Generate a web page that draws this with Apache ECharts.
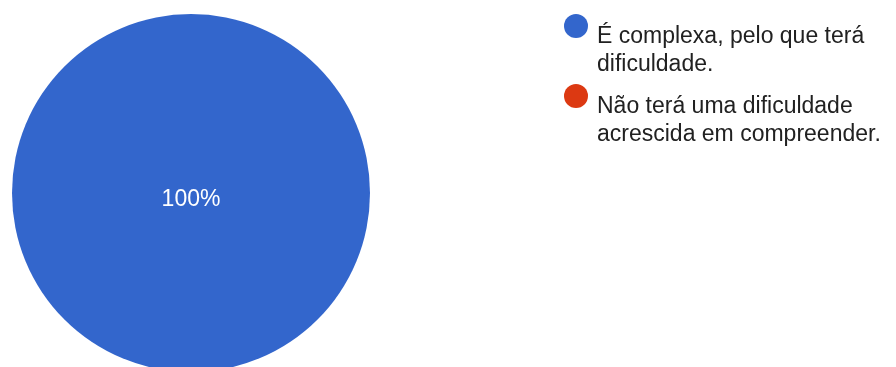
<!DOCTYPE html>
<html>
<head>
<meta charset="utf-8">
<script src="https://cdn.jsdelivr.net/npm/echarts@6/dist/echarts.min.js"></script>
<style>
html,body{margin:0;padding:0;background:#fff;}
#c{width:896px;height:367px;}
</style>
</head>
<body>
<div id="c"></div>
<script>
const categories = ["É complexa, pelo que terá dificuldade.", "Não terá uma dificuldade acrescida em compreender."];
const legendLines = [["É complexa, pelo que terá", "dificuldade."], ["Não terá uma dificuldade", "acrescida em compreender."]];
const values = [100, 0];
const colors = ["#3366cc", "#dc3912"];

const chart = echarts.init(document.getElementById('c'), null, {renderer: 'canvas'});
const font = 'Liberation Sans, Arial, sans-serif';

function mkLegend(i, top) {
  return {
    data: [categories[i]],
    left: 564,
    top: top,
    orient: 'vertical',
    icon: 'circle',
    itemWidth: 24,
    itemHeight: 24,
    padding: 0,
    selectedMode: false,
    formatter: function () { return legendLines[i].map(s => '{a|' + s + '}').join('\n'); },
    textStyle: {
      padding: [49, 0, 0, 4],
      rich: {
        a: {
          fontFamily: font,
          fontSize: 23,
          color: '#212121',
          lineHeight: 28
        }
      }
    }
  };
}

chart.setOption({
  animation: false,
  color: colors,
  legend: [mkLegend(0, 14), mkLegend(1, 84)],
  series: [{
    type: 'pie',
    center: [191, 193],
    radius: 179,
    startAngle: 90,
    data: categories.map((n, i) => ({name: n, value: values[i], label: {show: values[i] > 0}})),
    itemStyle: {borderWidth: 0},
    labelLine: {show: false},
    label: {
      position: 'center',
      formatter: '{v|{d}%}',
      padding: [14, 0, 0, 0],
      rich: {
        v: {
          color: '#ffffff',
          fontFamily: font,
          fontSize: 23,
          lineHeight: 26
        }
      }
    },
    emphasis: {disabled: true}
  }]
});
</script>
</body>
</html>
